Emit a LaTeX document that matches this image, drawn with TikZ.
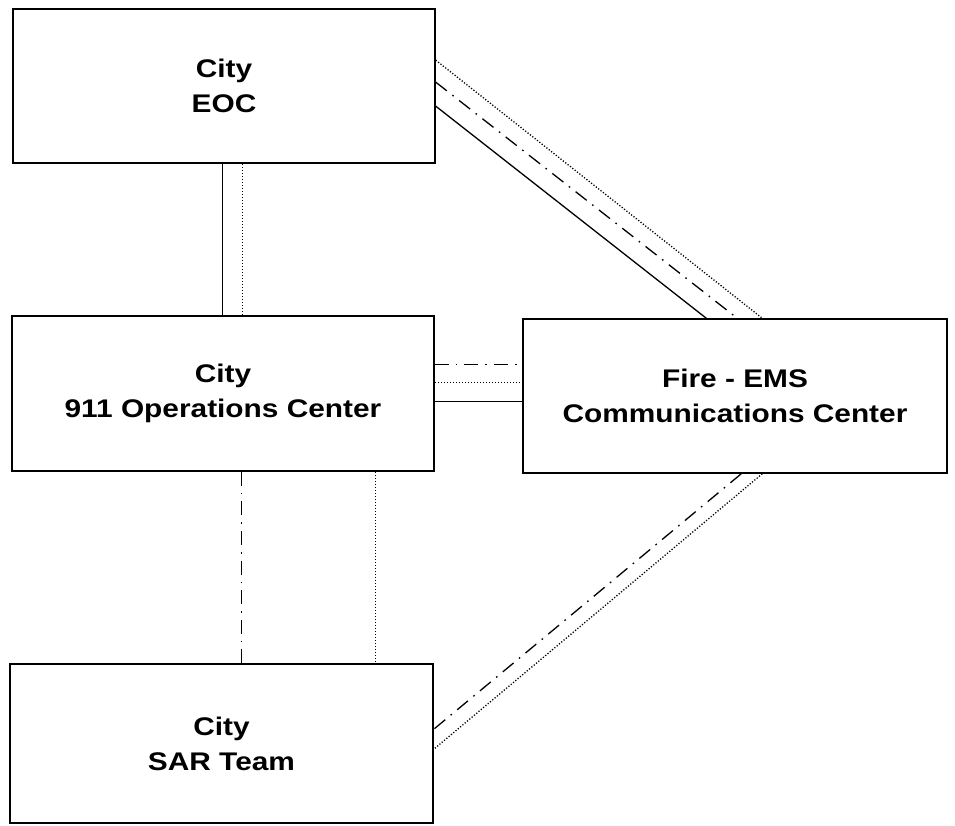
\documentclass[tikz,border=0pt]{standalone}
\usepackage{fontspec}
\setmainfont{Liberation Sans}[FakeStretch=1.17]
\begin{document}
\begin{tikzpicture}[x=1pt,y=-1pt,
  box/.style={draw, line width=1.6pt, inner sep=0pt, align=center,
    font=\fontsize{25.5}{35}\selectfont\bfseries},
  solidln/.style={line width=1.3pt},
  dotln/.style={line width=1.3pt, dash pattern=on 1.2pt off 1.8pt},
  dashdotln/.style={line width=1.3pt, dash pattern=on 14pt off 7pt on 1.6pt off 7pt}]
\useasboundingbox (0,0) rectangle (955,825);
\node[box, minimum width=422pt, minimum height=154pt] (eoc) at (224,86) {City\\EOC};
\node[box, minimum width=422pt, minimum height=155pt] (ops) at (223,393.5) {City\\911 Operations Center};
\node[box, minimum width=424pt, minimum height=154pt] (fire) at (735,396) {Fire - EMS\\Communications Center};
\node[box, minimum width=423pt, minimum height=159pt] (sar) at (221.5,743.5) {City\\SAR Team};
% EOC - 911
\draw[solidln] ([xshift=210pt]eoc.south west) -- ([xshift=210pt]eoc.south west |- ops.north);
\draw[dotln] ([xshift=230pt]eoc.south west) -- ([xshift=230pt]eoc.south west |- ops.north);
% 911 - Fire
\draw[dashdotln] ([yshift=-49pt]ops.north east) -- ([yshift=-49pt]ops.north east -| fire.west);
\draw[dotln] ([yshift=-67pt]ops.north east) -- ([yshift=-67pt]ops.north east -| fire.west);
\draw[solidln] ([yshift=-86pt]ops.north east) -- ([yshift=-86pt]ops.north east -| fire.west);
% 911 - SAR
\draw[dashdotln] ([xshift=230pt]ops.south west) -- ([xshift=230pt]ops.south west |- sar.north);
\draw[dotln] ([xshift=364pt]ops.south west) -- ([xshift=364pt]ops.south west |- sar.north);
% EOC - Fire
\draw[dotln] ([yshift=-52pt]eoc.north east) -- ([xshift=240pt]fire.north west);
\draw[dashdotln] ([yshift=-74pt]eoc.north east) -- ([xshift=215pt]fire.north west);
\draw[solidln] ([yshift=-98pt]eoc.north east) -- ([xshift=184pt]fire.north west);
% Fire - SAR
\draw[dashdotln] ([xshift=219pt]fire.south west) -- ([yshift=-66pt]sar.north east);
\draw[dotln] ([xshift=240pt]fire.south west) -- ([yshift=-86pt]sar.north east);
\end{tikzpicture}
\end{document}
